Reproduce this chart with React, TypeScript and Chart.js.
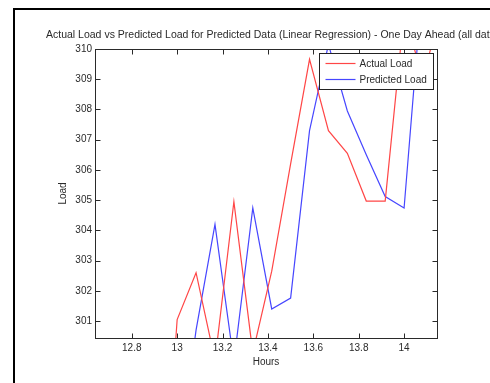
import React, { useEffect, useRef } from "react";
import { Chart, registerables } from "chart.js";

Chart.register(...registerables);

// ---- data ----
const hours = [12.9167, 13.0, 13.0833, 13.1667, 13.25, 13.3333, 13.4167, 13.5, 13.5833, 13.6667, 13.75, 13.8333, 13.9167, 14.0, 14.0833, 14.1667];
const actualLoad = [292.0, 301.05, 302.6, 299.7, 304.95, 299.95, 302.65, 306.2, 309.66, 307.3, 306.55, 304.97, 304.97, 311.2, 309.0, 311.5];
const predictedLoad = [295.5, 296.0, 300.7, 304.2, 299.65, 304.74, 301.4, 301.76, 307.3, 310.15, 307.95, 306.5, 305.12, 304.74, 312.4, 312.0];
const seriesNames = ["Actual Load", "Predicted Load"];
const xTicks = [12.8, 13, 13.2, 13.4, 13.6, 13.8, 14];
const yTicks = [301, 302, 303, 304, 305, 306, 307, 308, 309, 310];
const xMin = 12.638;
const xMax = 14.145;
const yMin = 300.44;
const yMax = 310;
const titleText = "Actual Load vs Predicted Load for Predicted Data (Linear Regression) - One Day Ahead (all data points)";
const xTitle = "Hours";
const yTitle = "Load";

const FONT = '"Liberation Sans", Arial, sans-serif';
const TXT = "#2a2a2a";
const AX = "#2a2a2a";

const framePlugin = {
  id: "frame",
  beforeDraw(chart: any) {
    const ctx = chart.ctx;
    ctx.save();
    ctx.fillStyle = "#ffffff";
    ctx.fillRect(0, 0, chart.width, chart.height);
    ctx.fillStyle = "#000000";
    ctx.fillRect(13, 8, 2, chart.height - 8);
    ctx.fillRect(13, 8, chart.width - 13, 2);
    ctx.restore();
  },
  afterDraw(chart: any) {
    const ctx = chart.ctx;
    ctx.save();
    ctx.font = `10.5px ${FONT}`;
    ctx.fillStyle = TXT;
    ctx.textAlign = "left";
    ctx.textBaseline = "alphabetic";
    ctx.fillText(titleText, 46, 37.5);
    ctx.restore();
  },
};

const axesBoxPlugin = {
  id: "axesBox",
  afterDatasetsDraw(chart: any) {
    const { ctx, chartArea: a, scales } = chart;
    const L = Math.round(a.left) + 0.5;
    const R = Math.round(a.right) + 0.5;
    const T = Math.round(a.top) + 0.5;
    const B = Math.round(a.bottom) + 0.5;
    const tl = 5;
    ctx.save();
    ctx.strokeStyle = AX;
    ctx.lineWidth = 1;
    ctx.strokeRect(L, T, R - L, B - T);
    ctx.beginPath();
    for (const v of xTicks) {
      const x = Math.round(scales.x.getPixelForValue(v)) + 0.5;
      ctx.moveTo(x, B);
      ctx.lineTo(x, B - tl);
      ctx.moveTo(x, T);
      ctx.lineTo(x, T + tl);
    }
    for (const v of yTicks) {
      const y = Math.round(scales.y.getPixelForValue(v)) + 0.5;
      ctx.moveTo(L, y);
      ctx.lineTo(L + tl, y);
      ctx.moveTo(R, y);
      ctx.lineTo(R - tl, y);
    }
    ctx.stroke();

    // legend box
    const bw = 114;
    const bh = 36;
    const bx = Math.round(a.right) - 4 - bw + 0.5;
    const by = Math.round(a.top) + 4 + 0.5;
    ctx.fillStyle = "#ffffff";
    ctx.fillRect(bx, by, bw, bh);
    ctx.strokeStyle = "#222";
    ctx.strokeRect(bx, by, bw, bh);
    ctx.font = `10px ${FONT}`;
    ctx.textAlign = "left";
    ctx.textBaseline = "middle";
    chart.data.datasets.forEach((ds: any, i: number) => {
      const yy = by + 10 + i * 16;
      ctx.strokeStyle = ds.borderColor;
      ctx.lineWidth = 1.2;
      ctx.beginPath();
      ctx.moveTo(bx + 6, yy);
      ctx.lineTo(bx + 36, yy);
      ctx.stroke();
      ctx.fillStyle = TXT;
      ctx.fillText(ds.label, bx + 40, yy + 0.5);
    });
    ctx.restore();
  },
};

export default function App() {
  const ref = useRef<HTMLCanvasElement | null>(null);
  useEffect(() => {
    if (!ref.current) return;
    const chart = new Chart(ref.current, {
      type: "line",
      data: {
        datasets: [
          {
            label: seriesNames[0],
            data: hours.map((h, i) => ({ x: h, y: actualLoad[i] })),
            borderColor: "rgb(255, 70, 70)",
            borderWidth: 1.2,
            pointRadius: 0,
            tension: 0,
            fill: false,
            clip: 0,
          },
          {
            label: seriesNames[1],
            data: hours.map((h, i) => ({ x: h, y: predictedLoad[i] })),
            borderColor: "rgb(70, 70, 255)",
            borderWidth: 1.2,
            pointRadius: 0,
            tension: 0,
            fill: false,
            clip: 0,
          },
        ],
      },
      options: {
        animation: false,
        responsive: false,
        devicePixelRatio: 1,
        events: [],
        layout: { padding: { left: 35, right: 53, top: 49, bottom: 10 } },
        plugins: {
          legend: { display: false },
          title: { display: false },
          tooltip: { enabled: false },
        },
        scales: {
          x: {
            type: "linear",
            min: xMin,
            max: xMax,
            afterBuildTicks: (s: any) => {
              s.ticks = xTicks.map((v) => ({ value: v }));
            },
            afterFit: (s: any) => {
              s.height = 35;
            },
            grid: { display: false, drawTicks: false },
            border: { display: false },
            ticks: {
              autoSkip: false,
              maxRotation: 0,
              padding: 4,
              color: TXT,
              font: { family: FONT, size: 10 },
              callback: (v: any) => String(v),
            },
            title: {
              display: true,
              text: xTitle,
              color: TXT,
              font: { family: FONT, size: 10 },
              padding: { top: 0, bottom: 5 },
            },
          },
          y: {
            type: "linear",
            min: yMin,
            max: yMax,
            afterBuildTicks: (s: any) => {
              s.ticks = yTicks.map((v) => ({ value: v }));
            },
            afterFit: (s: any) => {
              s.width = 60;
            },
            grid: { display: false, drawTicks: false },
            border: { display: false },
            ticks: {
              autoSkip: false,
              padding: 3,
              color: TXT,
              font: { family: FONT, size: 10 },
              callback: (v: any) => String(v),
            },
            title: {
              display: true,
              text: yTitle,
              color: TXT,
              font: { family: FONT, size: 10 },
              padding: { top: 22, bottom: 0 },
            },
          },
        },
      },
      plugins: [framePlugin, axesBoxPlugin],
    } as any);
    return () => chart.destroy();
  }, []);
  return (
    <div style={{ position: "absolute", left: 0, top: 0, width: 490, height: 383 }}>
      <canvas ref={ref} width={490} height={383} style={{ display: "block" }} />
    </div>
  );
}
